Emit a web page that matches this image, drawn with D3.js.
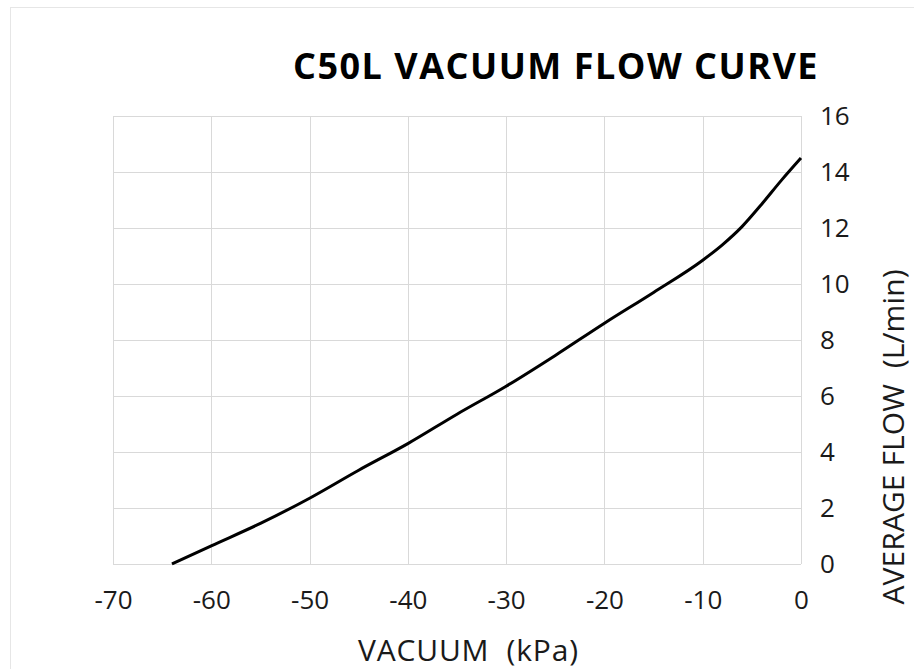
<!DOCTYPE html>
<html><head><meta charset="utf-8">
<script src="https://cdn.jsdelivr.net/npm/d3@7"></script>
<style>body{margin:0;background:#fff}svg{display:block}</style>
</head><body>
<script>
const vacuum = [-64,-60,-55,-50,-45,-40,-35,-30,-25,-20,-15,-10,-8,-6,-4,-2,0];
const flow   = [0,0.65,1.45,2.35,3.35,4.3,5.35,6.35,7.45,8.6,9.7,10.85,11.4,12.05,12.85,13.7,14.5];
const xTicks = [-70,-60,-50,-40,-30,-20,-10,0];
const yTicks = [0,2,4,6,8,10,12,14,16];
const title = "C50L VACUUM FLOW CURVE";
const xTitle = "VACUUM  (kPa)";
const yTitle = "AVERAGE FLOW  (L/min)";

const W=914,H=669;
const svg=d3.select("body").append("svg").attr("width",W).attr("height",H);
const font="'Open Sans', 'Noto Sans', sans-serif";
const x=d3.scaleLinear().domain([-70,0]).range([113,801]);
const y=d3.scaleLinear().domain([0,16]).range([564,116]);

// faint frame artifacts
svg.append("line").attr("x1",10).attr("x2",W).attr("y1",7.5).attr("y2",7.5).attr("stroke","#e6e6e6");
svg.append("line").attr("x1",10.5).attr("x2",10.5).attr("y1",7).attr("y2",H).attr("stroke","#e6e6e6");

// grid
svg.append("g").selectAll("line").data(xTicks).join("line")
  .attr("x1",d=>Math.round(x(d))+0.5).attr("x2",d=>Math.round(x(d))+0.5)
  .attr("y1",y(16)).attr("y2",y(0)).attr("stroke","#d9d9d9").attr("stroke-width",1);
svg.append("g").selectAll("line").data(yTicks).join("line")
  .attr("y1",d=>Math.round(y(d))+0.5).attr("y2",d=>Math.round(y(d))+0.5)
  .attr("x1",x(-70)).attr("x2",x(0)).attr("stroke","#d9d9d9").attr("stroke-width",1);

// axes via d3
const xa=svg.append("g").attr("transform",`translate(0,${y(0)})`)
  .call(d3.axisBottom(x).tickValues(xTicks).tickSize(0).tickPadding(27).tickFormat(d=>String(d)));
const ya=svg.append("g").attr("transform",`translate(${x(0)},0)`)
  .call(d3.axisRight(y).tickValues(yTicks).tickSize(0).tickPadding(19).tickFormat(d=>String(d)));
[xa,ya].forEach(a=>{a.select(".domain").remove();
  a.selectAll("text").attr("font-family",font).attr("font-size",26).attr("fill","#1a1a1a");});

// line
svg.append("path").datum(vacuum.map((v,i)=>[v,flow[i]]))
  .attr("d",d3.line().x(d=>x(d[0])).y(d=>y(d[1])).curve(d3.curveMonotoneX))
  .attr("fill","none").attr("stroke","#000").attr("stroke-width",3);

svg.append("text").attr("x",556).attr("y",79).attr("text-anchor","middle")
  .attr("font-family",font).attr("font-weight","bold").attr("font-size",36)
  .attr("letter-spacing",1.5).attr("fill","#000").text(title);
svg.append("text").attr("x",468).attr("y",661).attr("text-anchor","middle")
  .attr("font-family",font).attr("font-size",30).attr("fill","#1a1a1a")
  .attr("textLength",220).attr("lengthAdjust","spacing")
  .style("white-space","pre").text(xTitle);
svg.append("text").attr("transform","translate(904,437) rotate(-90)").attr("text-anchor","middle")
  .attr("font-family",font).attr("font-size",30).attr("fill","#1a1a1a")
  .attr("textLength",335).attr("lengthAdjust","spacing")
  .style("white-space","pre").text(yTitle);
</script>
</body></html>
